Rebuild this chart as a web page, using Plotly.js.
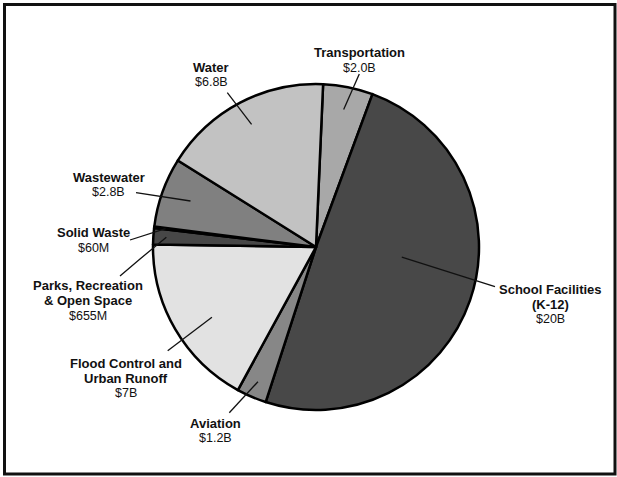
<!DOCTYPE html>
<html>
<head>
<meta charset="utf-8">
<script src="https://cdn.plot.ly/plotly-3.0.1.min.js"></script>
<style>html,body{margin:0;padding:0;background:#fff;}#chart{width:617px;height:477px;}</style>
</head>
<body>
<div id="chart"></div>
<script>
// ---- data ----
const categories = ['Transportation', 'School Facilities (K-12)', 'Aviation', 'Flood Control and Urban Runoff',
  'Parks, Recreation & Open Space', 'Solid Waste', 'Wastewater', 'Water'];
const valuesB = [2.0, 20, 1.2, 7, 0.655, 0.06, 2.8, 6.8];
const valueLabels = ['$2.0B', '$20B', '$1.2B', '$7B', '$655M', '$60M', '$2.8B', '$6.8B'];
const nameLines = [['Transportation'], ['School Facilities', '(K-12)'], ['Aviation'], ['Flood Control and', 'Urban Runoff'],
  ['Parks, Recreation', '& Open Space'], ['Solid Waste'], ['Wastewater'], ['Water']];
const sliceColors = ['#a8a8a8', '#484848', '#878787', '#e2e2e2', '#474747', '#e2e2e2', '#808080', '#c2c2c2'];

// ---- layout (pixels in the 617x477 page) ----
const W = 617, H = 477;
const CX = 316, CY = 247, R = 163;
const ROTATION = 2.5;
// label block centre x, first-line y
const labelPos = [[359.5, 52.7], [550.7, 289.3], [215, 423], [125.5, 363], [88.3, 285.7], [93, 232.7], [108.6, 177.3], [211, 67.5]];
// leader: outer end (+ optional elbow), inner radius fraction, angular fraction inside slice
const leaderOuter = [[[359.3, 74]], [[495, 286.7]], [[229.3, 412.7]], [[167.7, 350.7]], [[120, 276], [140, 259]], [[130, 240]], [[136, 192.7]], [[227.3, 92.7]]];
const leaderK = [0.86, 0.53, 0.9, 0.77, 0.92, 0.93, 0.82, 0.85];
const leaderFrac = [0.5, 0.43, 0.5, 0.44, 0.5, 0.5, 0.52, 0.5];
const LINE_H = 15;

const px = x => x / W;
const py = y => 1 - y / H;

const total = valuesB.reduce((a, b) => a + b, 0);
let cum = 0;
const shapes = [];
const annotations = [];
const FONT = '"Liberation Sans", Arial, sans-serif';

valuesB.forEach((v, i) => {
  const start = ROTATION + cum / total * 360;
  const span = v / total * 360;
  cum += v;
  const th = (start + span * leaderFrac[i]) * Math.PI / 180;
  const ix = CX + leaderK[i] * R * Math.sin(th);
  const iy = CY - leaderK[i] * R * Math.cos(th);
  const pts = leaderOuter[i].concat([[ix, iy]]);
  const path = pts.map((p, j) => (j ? 'L' : 'M') + px(p[0]) + ',' + py(p[1])).join(' ');
  shapes.push({type: 'path', xref: 'paper', yref: 'paper', path: path, line: {color: '#111', width: 1.3}});

  const lines = nameLines[i].map(t => ({t: '<b>' + t + '</b>', bold: true})).concat([{t: valueLabels[i], bold: false}]);
  lines.forEach((ln, j) => {
    annotations.push({
      xref: 'paper', yref: 'paper', x: px(labelPos[i][0]), y: py(labelPos[i][1] + j * LINE_H),
      xanchor: 'center', yanchor: 'middle', showarrow: false, text: ln.t,
      font: {family: FONT, size: ln.bold ? 13 : 12.5, color: '#111'}
    });
  });
});

shapes.push({type: 'rect', xref: 'paper', yref: 'paper', x0: px(4.5), x1: px(615), y0: py(4.5), y1: py(474),
  line: {color: '#111', width: 3}, fillcolor: 'rgba(0,0,0,0)'});

const trace = {
  type: 'pie', labels: categories, values: valuesB, sort: false, direction: 'clockwise', rotation: ROTATION,
  textinfo: 'none', hoverinfo: 'label+value', showlegend: false,
  marker: {colors: sliceColors, line: {color: '#000', width: 2.5}},
  domain: {x: [(CX - R) / W, (CX + R) / W], y: [(H - CY - R) / H, (H - CY + R) / H]}
};

Plotly.newPlot('chart', [trace], {
  width: W, height: H, margin: {l: 0, r: 0, t: 0, b: 0},
  paper_bgcolor: '#fff', showlegend: false, shapes: shapes, annotations: annotations
}, {displayModeBar: false, staticPlot: true});
</script>
</body>
</html>
